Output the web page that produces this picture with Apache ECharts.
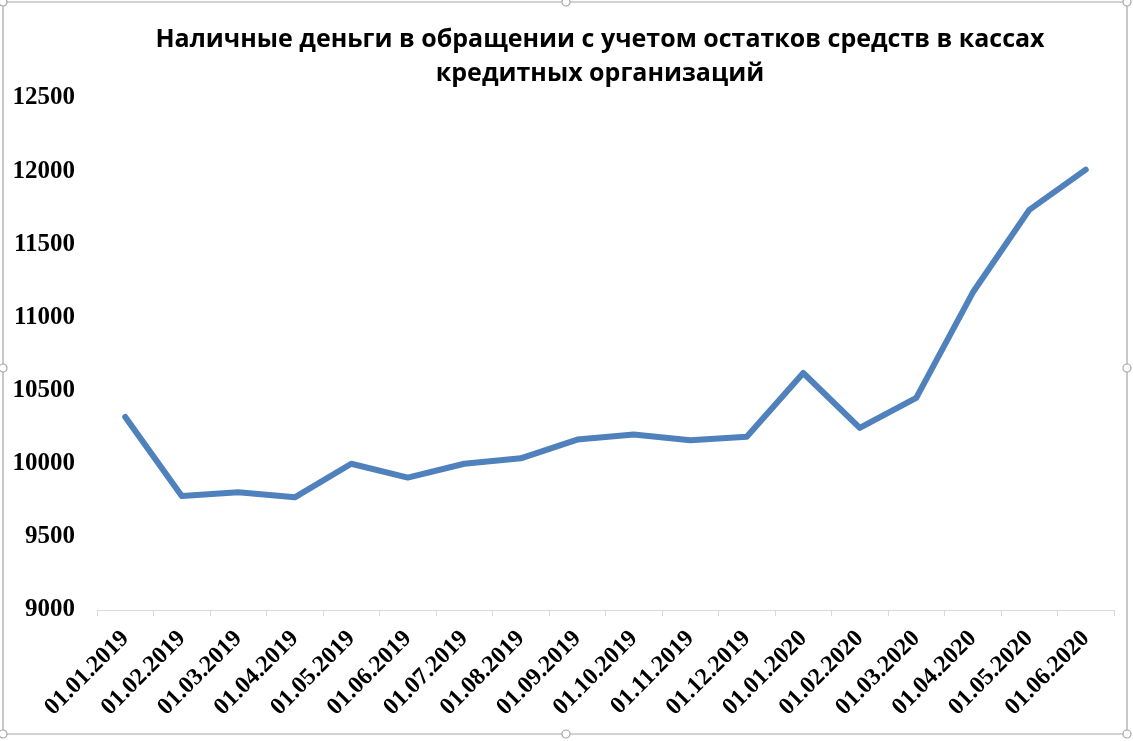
<!DOCTYPE html>
<html>
<head>
<meta charset="utf-8">
<script src="https://cdn.jsdelivr.net/npm/echarts@6/dist/echarts.min.js"></script>
<style>
html,body{margin:0;padding:0;background:#fff;}
#chart{width:1133px;height:741px;}
</style>
</head>
<body>
<div id="chart"></div>
<script>
const titleText = 'Наличные деньги в обращении с учетом остатков средств в кассах\nкредитных организаций';
const categories = ['01.01.2019','01.02.2019','01.03.2019','01.04.2019','01.05.2019','01.06.2019','01.07.2019','01.08.2019','01.09.2019','01.10.2019','01.11.2019','01.12.2019','01.01.2020','01.02.2020','01.03.2020','01.04.2020','01.05.2020','01.06.2020'];
const cashValues = [10320,9780,9805,9770,10000,9905,10000,10037,10165,10200,10160,10185,10620,10245,10450,11170,11735,12010];
const yTicks = [9000,9500,10000,10500,11000,11500,12000,12500];

const chart = echarts.init(document.getElementById('chart'));
const handle = (x,y)=>({type:'circle',shape:{cx:x,cy:y,r:4},style:{fill:'#fff',stroke:'#a6a6a6',lineWidth:1.2},z:10});
chart.setOption({
  backgroundColor:'#fff',
  animation:false,
  title:{
    text:titleText,
    left:595, top:18, textAlign:'center',
    textStyle:{fontFamily:'Open Sans',fontWeight:'bold',fontSize:25,color:'#000',lineHeight:34}
  },
  grid:{left:97,right:19,top:98,bottom:131,containLabel:false},
  xAxis:{
    type:'category',
    data:categories,
    boundaryGap:true,
    axisLine:{lineStyle:{color:'#d9d9d9',width:1}},
    axisTick:{show:true,length:6,lineStyle:{color:'#d9d9d9'}},
    axisLabel:{rotate:45,margin:25,interval:0,color:'#000',fontFamily:'Liberation Serif',fontWeight:'bold',fontSize:24}
  },
  yAxis:{
    type:'value',
    min:yTicks[0], max:yTicks[yTicks.length-1], interval:500,
    axisLine:{show:false},
    axisTick:{show:false},
    splitLine:{show:false},
    axisLabel:{margin:22,color:'#000',fontFamily:'Liberation Serif',fontWeight:'bold',fontSize:25,formatter:v=>String(v)}
  },
  series:[{
    type:'line',
    data:cashValues,
    symbol:'none',
    lineStyle:{color:'#4f81bd',width:6,cap:'round',join:'round'},
    itemStyle:{color:'#4f81bd'}
  }],
  graphic:[
    {type:'rect',shape:{x:3,y:2,width:1124,height:732},style:{fill:null,stroke:'#a6a6a6',lineWidth:1.2},z:9},
    handle(3,2),handle(566,2),handle(1127,2),
    handle(3,368),handle(1127,368),
    handle(3,734),handle(566,734),handle(1127,734)
  ]
});
</script>
</body>
</html>
